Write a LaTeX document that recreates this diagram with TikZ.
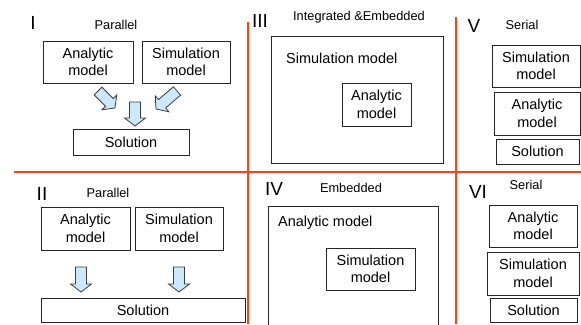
\documentclass[tikz,border=0pt]{standalone}
\usepackage{fontspec}
\setmainfont{Liberation Sans}
\usetikzlibrary{calc}

\definecolor{divider}{RGB}{250,66,20}
\definecolor{arrowfill}{RGB}{204,232,250}
\definecolor{arrowline}{RGB}{60,60,60}

\newcommand\bxfont{\fontsize{14.5}{17.5}\selectfont}
\newcommand\capfont{\fontsize{12.8}{15}\selectfont}
\newcommand\numfont{\fontsize{19}{22}\selectfont}

% wide block arrow from tail #1 to tip #2
\newcommand\fatarrow[2]{%
  \coordinate (hb) at ($(#2)!8pt!(#1)$);
  \filldraw[arrowstyle]
    ($(#1)!5.5pt!90:(#2)$) -- ($(hb)!5.5pt!-90:(#1)$) -- ($(hb)!10.5pt!-90:(#1)$)
    -- (#2) -- ($(hb)!10.5pt!90:(#1)$) -- ($(hb)!5.5pt!90:(#1)$)
    -- ($(#1)!5.5pt!-90:(#2)$) -- cycle;
}

\tikzset{
  box/.style={draw=black!85, line width=0.8pt, align=center, inner sep=0pt, font=\bxfont},
  caption/.style={font=\capfont, inner sep=0pt},
  numeral/.style={font=\numfont, inner sep=0pt},
  plain/.style={font=\bxfont, inner sep=0pt},
  divline/.style={draw=divider, line width=2pt},
  arrowstyle/.style={fill=arrowfill, draw=arrowline, line width=0.8pt, line join=miter},
}

\begin{document}
\begin{tikzpicture}[x=1pt, y=-1pt]
\clip (0,0) rectangle (581,324);
\fill[white] (0,0) rectangle (581,324);

% dividing lines
\draw[divline] (248,22) -- (248,324);
\draw[divline] (456,17) -- (456,324);
\draw[divline] (14,172) -- (581,172);

% I: parallel
\node[numeral] (n1) at (33,23) {I};
\node[caption] (c1) at (116,25) {Parallel};
\node[box, minimum width=90pt, minimum height=42pt] (a1) at (88,62) {Analytic\\model};
\node[box, minimum width=88pt, minimum height=42pt] (s1) at (186,62) {Simulation\\model};
\node[box, minimum width=116pt, minimum height=26pt] (sol1) at (131,142) {Solution};
\coordinate (t1a) at (98,91);  \coordinate (p1a) at (115,108);
\coordinate (t1b) at (135,102); \coordinate (p1b) at (135,126);
\coordinate (t1c) at (177,91); \coordinate (p1c) at (156,109);
\fatarrow{t1a}{p1a}
\fatarrow{t1b}{p1b}
\fatarrow{t1c}{p1c}

% II: parallel
\node[numeral] (n2) at (42,194) {II};
\node[caption] (c2) at (108,193) {Parallel};
\node[box, minimum width=89pt, minimum height=43pt] (a2) at (85.5,228.5) {Analytic\\model};
\node[box, minimum width=88pt, minimum height=43pt] (s2) at (179,228.5) {Simulation\\model};
\node[box, minimum width=204pt, minimum height=24pt] (sol2) at (143,310) {Solution};
\coordinate (t2a) at (81,267); \coordinate (p2a) at (81,292);
\coordinate (t2b) at (179,267); \coordinate (p2b) at (179,292);
\fatarrow{t2a}{p2a}
\fatarrow{t2b}{p2b}

% III: integrated & embedded
\node[numeral] (n3) at (260,21) {III};
\node[caption] (c3) at (359,17) {Integrated \&Embedded};
\node[box, minimum width=172pt, minimum height=127pt] (o3) at (357,99.5) {};
\node[plain, anchor=west] (l3) at (286,58) {Simulation model};
\node[box, minimum width=69pt, minimum height=43pt] (i3) at (376.5,104.5) {Analytic\\model};

% IV: embedded
\node[numeral] (n4) at (274,189) {IV};
\node[caption] (c4) at (351,188) {Embedded};
\node[box, minimum width=170pt, minimum height=128pt] (o4) at (353,270) {};
\node[plain, anchor=west] (l4) at (278,223) {Analytic model};
\node[box, minimum width=89pt, minimum height=42pt] (i4) at (370.5,269) {Simulation\\model};

% V: serial
\node[numeral] (n5) at (474,26) {V};
\node[caption] (c5) at (522,25) {Serial};
\node[box, minimum width=88pt, minimum height=42pt] (s5) at (536,66) {Simulation\\model};
\node[box, minimum width=86pt, minimum height=43pt] (a5) at (537,113.5) {Analytic\\model};
\node[box, minimum width=83pt, minimum height=25pt] (sol5) at (537.5,151.5) {Solution};

% VI: serial
\node[numeral] (n6) at (478,192) {VI};
\node[caption] (c6) at (526,185) {Serial};
\node[box, minimum width=88pt, minimum height=42pt] (a6) at (533,226) {Analytic\\model};
\node[box, minimum width=92pt, minimum height=43pt] (s6) at (533,273.5) {Simulation\\model};
\node[box, minimum width=87pt, minimum height=24pt] (sol6) at (533.5,310) {Solution};
\end{tikzpicture}
\end{document}
